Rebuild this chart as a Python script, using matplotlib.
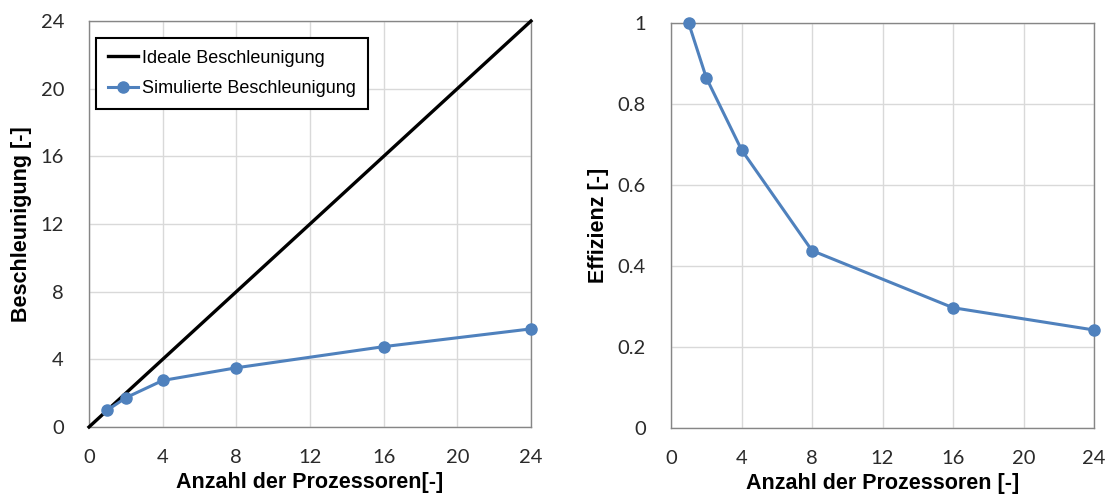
import matplotlib
matplotlib.use("Agg")
import matplotlib.pyplot as plt

processors = [1, 2, 4, 8, 16, 24]
ideal_x = [0, 24]
ideal_y = [0, 24]
speedup = [1.0, 1.73, 2.75, 3.5, 4.75, 5.8]
efficiency = [1.0, 0.865, 0.687, 0.438, 0.297, 0.242]
x_ticks = [0, 4, 8, 12, 16, 20, 24]
y_ticks_left = [0, 4, 8, 12, 16, 20, 24]
y_ticks_right = [0, 0.2, 0.4, 0.6, 0.8, 1.0]
y_ticklabels_right = ["0", "0.2", "0.4", "0.6", "0.8", "1"]

blue = "#4F81BD"
tick_font = "Lato"
label_font = "Liberation Sans"

fig = plt.figure(figsize=(11.1, 5.0), dpi=100)
ax1 = fig.add_axes([89/1110, 1 - 427/500, (531 - 89)/1110, (427 - 21)/500])
ax2 = fig.add_axes([671/1110, 1 - 428/500, (1094 - 671)/1110, (428 - 23)/500])

def style(ax):
    ax.grid(True, color="#d9d9d9", linewidth=1.0)
    ax.set_axisbelow(True)
    for s in ax.spines.values():
        s.set_color("#868686")
        s.set_linewidth(1.0)
    ax.tick_params(length=0, labelsize=14.5, labelcolor="#2a2a2a")
    ax.tick_params(axis="x", pad=16)
    ax.tick_params(axis="y", pad=18)
    for lbl in ax.get_xticklabels() + ax.get_yticklabels():
        lbl.set_fontfamily(tick_font)

ax1.plot(ideal_x, ideal_y, color="black", linewidth=2.4, label="Ideale Beschleunigung", zorder=3)
ax1.plot(processors, speedup, color=blue, linewidth=2.2, marker="o", markersize=8,
         label="Simulierte Beschleunigung", zorder=4)
ax1.set_xlim(0, 24)
ax1.set_ylim(0, 24)
ax1.set_xticks(x_ticks)
ax1.set_yticks(y_ticks_left)
style(ax1)
ax1.set_xlabel("Anzahl der Prozessoren[-]", fontsize=15.5, fontweight="bold",
               fontfamily=label_font, labelpad=4)
ax1.set_ylabel("Beschleunigung [-]", fontsize=15.5, fontweight="bold",
               fontfamily=label_font, labelpad=6)
leg = ax1.legend(loc="upper left", bbox_to_anchor=(7/442, 1 - 17/406), frameon=True,
                 fancybox=False, edgecolor="black", framealpha=1,
                 prop={"family": label_font, "size": 13}, handlelength=1.7,
                 handletextpad=0.2, borderpad=0.65, labelspacing=0.75, borderaxespad=0)
leg.get_frame().set_linewidth(1.5)

ax2.plot(processors, efficiency, color=blue, linewidth=2.2, marker="o", markersize=8, zorder=4)
ax2.set_xlim(0, 24)
ax2.set_ylim(0, 1)
ax2.set_xticks(x_ticks)
ax2.set_yticks(y_ticks_right)
ax2.set_yticklabels(y_ticklabels_right)
style(ax2)
ax2.set_xlabel("Anzahl der Prozessoren [-]", fontsize=15.5, fontweight="bold",
               fontfamily=label_font, labelpad=4)
ax2.set_ylabel("Effizienz [-]", fontsize=15.5, fontweight="bold",
               fontfamily=label_font, labelpad=6)
for ax in (ax1, ax2):
    for l in ax.lines:
        l.set_clip_on(False)

fig.savefig("out.png", dpi=100)
